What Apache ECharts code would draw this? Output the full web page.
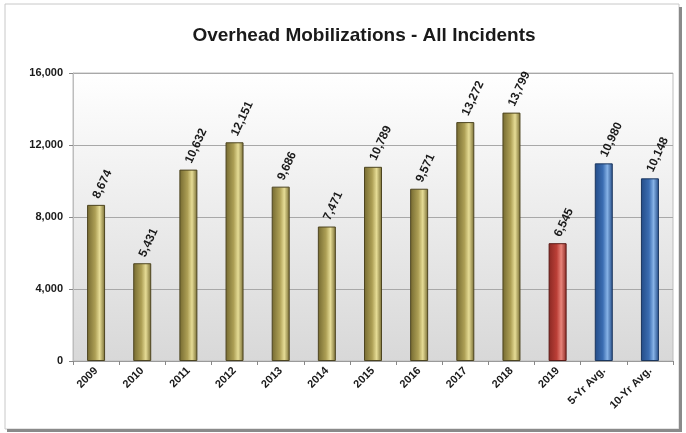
<!DOCTYPE html>
<html><head><meta charset="utf-8">
<script src="https://cdn.jsdelivr.net/npm/echarts@6/dist/echarts.min.js"></script>
<style>html,body{margin:0;padding:0;background:#fff;}#c{width:686px;height:433px;}</style>
</head><body><div id="c"></div>
<script>
var categories = ['2009','2010','2011','2012','2013','2014','2015','2016','2017','2018','2019','5-Yr Avg.','10-Yr Avg.'];
var values = [8674,5431,10632,12151,9686,7471,10789,9571,13272,13799,6545,10980,10148];
var barKinds = ['y','y','y','y','y','y','y','y','y','y','r','b','b'];
var yTicks = [0,4000,8000,12000,16000];

function grad(dark, mid, light){
  return new echarts.graphic.LinearGradient(0,0,1,0,[
    {offset:0,color:dark},{offset:0.45,color:mid},{offset:0.7,color:light},{offset:1,color:dark}]);
}
var styles = {
  y:{color:grad('#746930','#ad9f55','#e6dc96'),borderColor:'#4d4520'},
  r:{color:grad('#8a2823','#bb3f37','#e8847a'),borderColor:'#5a1a16'},
  b:{color:grad('#234b86','#3b6db2','#86b2e6'),borderColor:'#1a365e'}
};
var data = values.map(function(v,i){
  var s = styles[barKinds[i]];
  return {value:v,itemStyle:{color:s.color,borderColor:s.borderColor,borderWidth:1}};
});
var chart = echarts.init(document.getElementById('c'));
chart.setOption({
  animation:false,
  backgroundColor:'#fff',
  graphic:[{type:'rect',shape:{x:5,y:4,width:674,height:425},style:{fill:'none',stroke:'#c8c8c8',lineWidth:1},z:-10},
           {type:'rect',shape:{x:7,y:429,width:674,height:3},style:{fill:'#8a8a8a'},z:-10},
           {type:'rect',shape:{x:679,y:7,width:3,height:425},style:{fill:'#8a8a8a'},z:-10}],
  title:{text:'Overhead Mobilizations - All Incidents',left:359,top:21,textAlign:'center',
    textStyle:{fontFamily:'Liberation Sans, Arial',fontWeight:'bold',fontSize:19,color:'#1a1a1a'}},
  grid:{left:73,right:13,top:73,bottom:72,show:true,borderColor:'#bdbdbd',borderWidth:1,
    backgroundColor:new echarts.graphic.LinearGradient(0,0,0,1,[{offset:0,color:'#ffffff'},{offset:1,color:'#d8d8d8'}])},
  xAxis:{type:'category',data:categories,
    axisLine:{lineStyle:{color:'#9a9a9a'}},
    axisTick:{show:true,length:4,lineStyle:{color:'#888'}},
    axisLabel:{rotate:45,interval:0,fontFamily:'Liberation Sans, Arial',fontWeight:'bold',fontSize:11,color:'#1a1a1a',margin:8}},
  yAxis:{type:'value',min:0,max:16000,interval:4000,
    axisLine:{show:true,lineStyle:{color:'#bdbdbd'}},
    axisTick:{show:true,length:4,lineStyle:{color:'#888'}},
    splitLine:{lineStyle:{color:'#a8a8a8',width:1}},
    axisLabel:{fontFamily:'Liberation Sans, Arial',fontWeight:'bold',fontSize:11,color:'#1a1a1a',margin:10,
      formatter:function(v){return yTicks.indexOf(v)>=0?v.toLocaleString('en-US'):'';}}},
  series:[{type:'bar',data:data,barWidth:18,
    label:{show:true,position:'top',distance:7,rotate:65,align:'left',verticalAlign:'middle',
      fontFamily:'Liberation Sans, Arial',fontWeight:'bold',fontSize:12,color:'#1a1a1a',
      formatter:function(p){return p.value.toLocaleString('en-US');}}}]
});
</script></body></html>
